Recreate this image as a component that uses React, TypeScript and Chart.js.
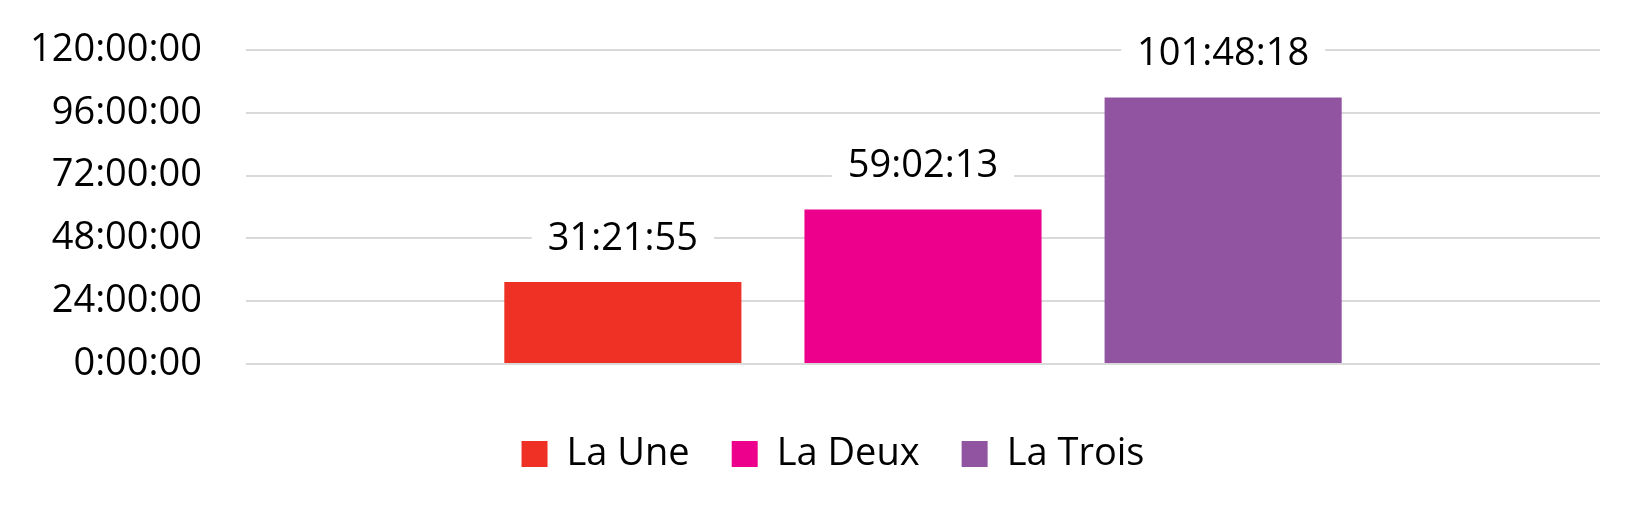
import React, { useEffect, useRef } from "react";
import { Chart, registerables } from "chart.js";

Chart.register(...registerables);

const categories = [""];
const seriesNames = ["La Une", "La Deux", "La Trois"];
// durations in seconds: 31:21:55, 59:02:13, 101:48:18
const seriesSeconds = [112915, 212533, 366498];
const seriesColors = ["#EE3124", "#EC008C", "#9154A0"];
const yTickHours = [0, 24, 48, 72, 96, 120];

const FONT = "'Open Sans', 'Noto Sans', sans-serif";
const FS = 38;

function fmt(sec: number): string {
  const s = Math.round(sec);
  const h = Math.floor(s / 3600);
  const m = Math.floor((s % 3600) / 60);
  const r = s % 60;
  return `${h}:${String(m).padStart(2, "0")}:${String(r).padStart(2, "0")}`;
}

const labelPlugin = {
  id: "barLabels",
  afterDatasetsDraw(chart: any) {
    const ctx = chart.ctx;
    ctx.save();
    ctx.font = `${FS}px ${FONT}`;
    ctx.textAlign = "center";
    ctx.textBaseline = "middle";
    chart.data.datasets.forEach((ds: any, i: number) => {
      const meta = chart.getDatasetMeta(i);
      meta.data.forEach((bar: any, j: number) => {
        const text = fmt(ds.data[j]);
        const w = ctx.measureText(text).width;
        const cy = bar.y - 43;
        ctx.fillStyle = "#ffffff";
        ctx.fillRect(bar.x - w / 2 - 16, cy - 20, w + 32, 40);
        ctx.fillStyle = "#000000";
        ctx.fillText(text, bar.x, cy);
      });
    });
    ctx.restore();
  },
};

// shift the legend's box so that it is centred where the reference's is
const legendShift = {
  id: "legendShift",
  afterLayout(chart: any) {
    const l = chart.legend;
    if (l) {
      l.left += 66;
      l.width = l.right - l.left;
    }
  },
};

export default function App() {
  const ref = useRef<HTMLCanvasElement | null>(null);
  useEffect(() => {
    if (!ref.current) return;
    const chart = new Chart(ref.current, {
      type: "bar",
      data: {
        labels: categories,
        datasets: seriesNames.map((name, i) => ({
          label: name,
          data: [seriesSeconds[i]],
          backgroundColor: seriesColors[i],
          borderWidth: 0,
          categoryPercentage: 0.665,
          barPercentage: 0.79,
        })),
      },
      options: {
        animation: false,
        responsive: true,
        maintainAspectRatio: false,
        layout: { padding: { left: 0, right: 50, top: 50, bottom: 39 } },
        plugins: {
          tooltip: { enabled: false },
          legend: {
            position: "bottom",
            labels: {
              font: { family: FONT, size: FS },
              color: "#000000",
              boxWidth: 26,
              boxHeight: 26,
              padding: 42,
            },
          },
        },
        scales: {
          x: {
            grid: { display: false },
            border: { display: false },
            ticks: { display: false },
            afterFit: (scale: any) => {
              scale.height = 29;
            },
          },
          y: {
            min: 0,
            max: yTickHours[yTickHours.length - 1] * 3600,
            afterBuildTicks: (scale: any) => {
              scale.ticks = yTickHours.map((h) => ({ value: h * 3600 }));
            },
            afterFit: (scale: any) => {
              scale.width = 246;
              scale.paddingTop = 0;
              scale.paddingBottom = 0;
            },
            grid: { color: "#D9D9D9", lineWidth: 2, drawTicks: false },
            border: { display: false },
            ticks: {
              padding: 44,
              color: "#000000",
              font: { family: FONT, size: FS },
              callback: (v: any) => fmt(Number(v)),
            },
          },
        },
      },
      plugins: [labelPlugin, legendShift],
    });
    return () => chart.destroy();
  }, []);
  return (
    <div style={{ position: "fixed", left: 0, top: 0, width: 1650, height: 522, background: "#fff" }}>
      <canvas ref={ref} />
    </div>
  );
}
